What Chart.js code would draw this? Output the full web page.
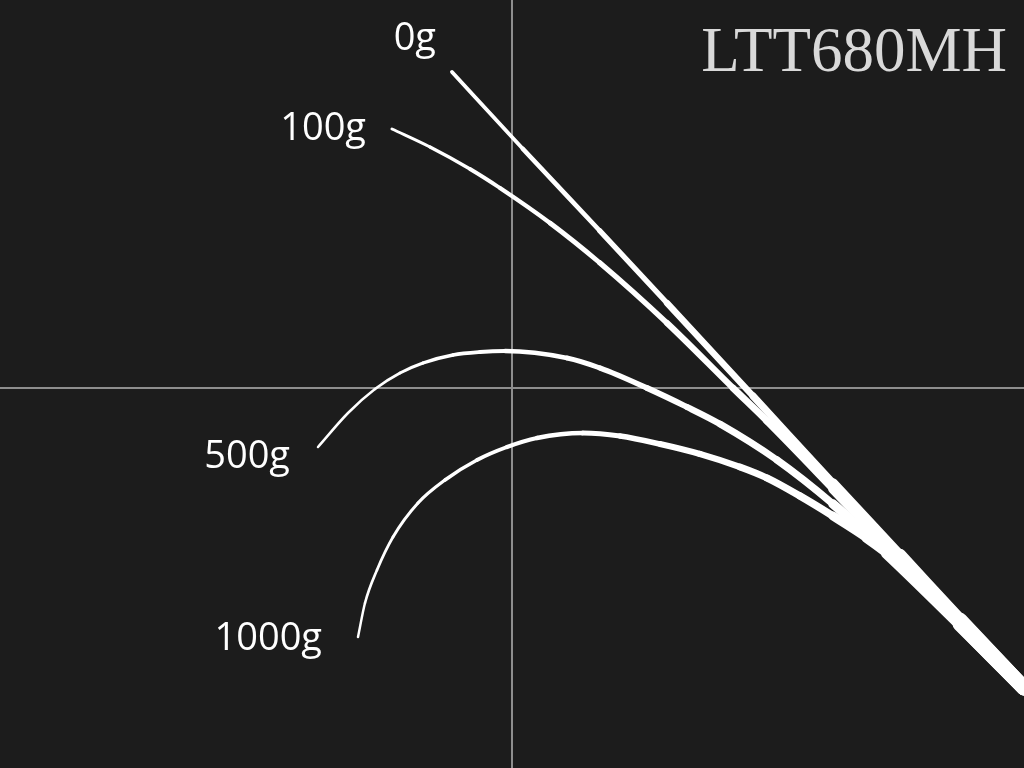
<!DOCTYPE html>
<html>
<head>
<meta charset="utf-8">
<script src="https://cdn.jsdelivr.net/npm/chart.js@4.4.1/dist/chart.umd.min.js"></script>
<style>
  html, body { margin: 0; padding: 0; background: #1c1c1c; }
  #wrap { width: 1024px; height: 768px; position: relative; }
</style>
</head>
<body>
<div id="wrap"><canvas id="c"></canvas></div>
<script>
// Rod bend curves, coordinates relative to the crosshair (x right, y up)
const title = "LTT680MH";
const loadLabels = ["0g", "100g", "500g", "1000g"];

const x0g = [-60, 11, 88, 155, 241, 321, 388, 448, 512];
const y0g = [316, 239, 157, 85, -8, -95, -167, -232, -300];

const x100g = [-120, -82, -42, -12, 38, 88, 155, 221, 255, 321, 388, 448, 512];
const y100g = [259, 241, 219, 200, 165, 125, 65, 0, -33, -101, -171, -235, -300];

const x500g = [-194, -164, -137, -112, -89, -59, -32, -7, 55, 88, 135, 175, 208, 265, 321, 375, 448, 512];
const y500g = [-59, -25, -1, 15, 25, 33, 36, 37, 30, 20, 0, -19, -36, -72, -116, -165, -236, -300];

const x1000g = [-154, -147, -135, -119, -94, -67, -35, -5, 25, 71, 108, 148, 188, 228, 255, 288, 321, 355, 388, 418, 448, 512];
const y1000g = [-249, -215, -182, -149, -115, -92, -72, -59, -50, -45, -48, -56, -66, -79, -90, -108, -128, -150, -175, -202, -233, -300];

const seriesX = [x0g, x100g, x500g, x1000g];
const seriesY = [y0g, y100g, y500g, y1000g];

// label placement relative to each curve's tip (pixels)
const labelOffset = [[-16, -22], [-26, 11], [-28, 21], [-36, 13]];

function toPoints(xs, ys) { return xs.map((x, i) => ({ x: x, y: ys[i] })); }

function taper(ctx) {
  const x = (ctx.p0.parsed.x + ctx.p1.parsed.x) / 2;
  return 2.5 + Math.max(0, x + 150) * 0.011 + Math.max(0, x - 300) * 0.03;
}

const datasets = seriesX.map((xs, i) => ({
  label: loadLabels[i],
  data: toPoints(xs, seriesY[i]),
  borderColor: '#ffffff',
  borderWidth: 3,
  borderCapStyle: 'round',
  borderJoinStyle: 'round',
  pointRadius: 0,
  cubicInterpolationMode: 'monotone',
  fill: false,
  segment: { borderWidth: taper }
}));

const textPlugin = {
  id: 'texts',
  afterDatasetsDraw(chart) {
    const ctx = chart.ctx;
    const xs = chart.scales.x, ys = chart.scales.y;
    ctx.save();
    ctx.fillStyle = '#ffffff';
    ctx.font = '38px "Open Sans", "Noto Sans", sans-serif';
    ctx.textAlign = 'right';
    ctx.textBaseline = 'alphabetic';
    loadLabels.forEach((lab, i) => {
      const px = xs.getPixelForValue(seriesX[i][0]);
      const py = ys.getPixelForValue(seriesY[i][0]);
      ctx.fillText(lab, px + labelOffset[i][0], py + labelOffset[i][1]);
    });
    ctx.fillStyle = '#d9d9d9';
    ctx.font = '63px "Liberation Serif", "Times New Roman", serif';
    ctx.textAlign = 'right';
    ctx.fillText(title, chart.width - 17, 71);
    ctx.restore();
  }
};

const bgPlugin = {
  id: 'bg',
  beforeDraw(chart) {
    const ctx = chart.ctx;
    ctx.save();
    ctx.fillStyle = '#1c1c1c';
    ctx.fillRect(0, 0, chart.width, chart.height);
    ctx.restore();
  }
};

const onlyZero = (scale) => { scale.ticks = [{ value: 0 }]; };

new Chart(document.getElementById('c'), {
  type: 'line',
  data: { datasets: datasets },
  options: {
    responsive: true,
    maintainAspectRatio: false,
    animation: false,
    layout: { padding: 0 },
    plugins: { legend: { display: false }, tooltip: { enabled: false }, title: { display: false } },
    scales: {
      x: {
        type: 'linear', min: -512, max: 512,
        afterBuildTicks: onlyZero,
        ticks: { display: false },
        border: { display: false },
        grid: { color: '#8e8e8e', lineWidth: 2, drawTicks: false }
      },
      y: {
        type: 'linear', min: -380, max: 388,
        afterBuildTicks: onlyZero,
        ticks: { display: false },
        border: { display: false },
        grid: { color: '#8e8e8e', lineWidth: 2, drawTicks: false }
      }
    }
  },
  plugins: [bgPlugin, textPlugin]
});
</script>
</body>
</html>
